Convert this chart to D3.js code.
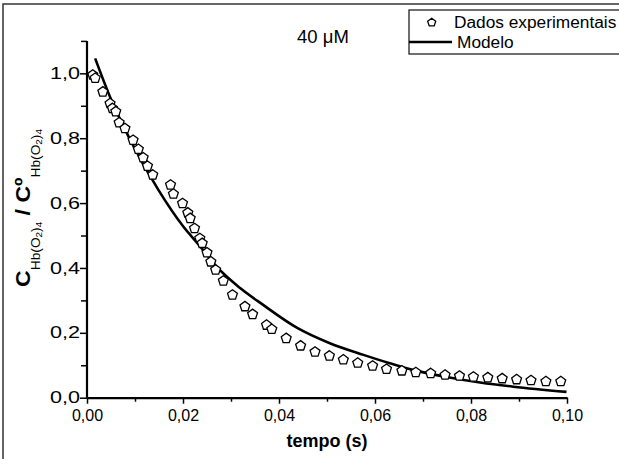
<!DOCTYPE html>
<html>
<head>
<meta charset="utf-8">
<script src="https://cdn.jsdelivr.net/npm/d3@7"></script>
<style>
  body { margin: 0; background: #fff; }
  svg { display: block; font-family: "Liberation Sans", Arial, sans-serif; }
</style>
</head>
<body>
<div id="chart"></div>
<script>
// experimental points (tempo in s, normalised concentration)
var tData = [0.0012, 0.0017, 0.0033, 0.0048, 0.0053, 0.0060, 0.0067, 0.0079, 0.0096, 0.0107,
  0.0117, 0.0126, 0.0137, 0.0174, 0.0180, 0.0199, 0.0210, 0.0215, 0.0224, 0.0235,
  0.0240, 0.0250, 0.0258, 0.0268, 0.0284, 0.0303, 0.0329, 0.0345, 0.0374, 0.0385,
  0.0415, 0.0445, 0.0475, 0.0505, 0.0534, 0.0564, 0.0595, 0.0624, 0.0656, 0.0685,
  0.0716, 0.0746, 0.0776, 0.0805, 0.0835, 0.0865, 0.0895, 0.0925, 0.0956, 0.0987]
var vData = [0.995, 0.985, 0.943, 0.907, 0.892, 0.882, 0.848, 0.830, 0.794, 0.766,
  0.740, 0.714, 0.687, 0.656, 0.628, 0.599, 0.570, 0.553, 0.522, 0.491,
  0.476, 0.447, 0.419, 0.394, 0.360, 0.317, 0.281, 0.257, 0.224, 0.211,
  0.183, 0.160, 0.141, 0.129, 0.117, 0.107, 0.098, 0.088, 0.083, 0.078,
  0.075, 0.070, 0.067, 0.064, 0.062, 0.059, 0.056, 0.053, 0.050, 0.050]

// model curve
var tModel = [0.0017, 0.005, 0.009, 0.0149, 0.0201, 0.0235, 0.027, 0.0319, 0.0367, 0.0437,
  0.0506, 0.0576, 0.0631, 0.068, 0.0749, 0.0819, 0.0888, 0.0999]
var vModel = [1.046, 0.92, 0.795, 0.64, 0.527, 0.468, 0.404, 0.338, 0.286, 0.216,
  0.168, 0.132, 0.106, 0.085, 0.064, 0.047, 0.034, 0.018]

var xTicks = [0, 0.02, 0.04, 0.06, 0.08, 0.10]
var xMinor = [0.01, 0.03, 0.05, 0.07, 0.09]
var yTicks = [0, 0.2, 0.4, 0.6, 0.8, 1.0]
var yMinor = [0.1, 0.3, 0.5, 0.7, 0.9, 1.1]

var width = 619, height = 459

var svg = d3.select("#chart").append("svg")
  .attr("width", width)
  .attr("height", height)

// outer frame (only left/top edges fall inside the picture)
svg.append("rect")
  .attr("x", 3).attr("y", 4)
  .attr("width", 700).attr("height", 700)
  .attr("fill", "none")
  .attr("stroke", "#333")
  .attr("stroke-width", 1.5)

var x = d3.scaleLinear().domain([0, 0.10]).range([87, 567])
var y = d3.scaleLinear().domain([0, 1.1]).range([397.7, 40.9])

var comma = function (f) { return function (d) { return d3.format(f)(d).replace(".", ",") } }

// minor ticks
svg.append("g")
  .attr("transform", "translate(0," + y(0) + ")")
  .call(d3.axisBottom(x).tickValues(xMinor).tickSize(4).tickFormat(""))
  .call(function (g) { g.select(".domain").remove() })
  .selectAll("line").attr("stroke-width", 1.5)
svg.append("g")
  .attr("transform", "translate(" + x(0) + ",0)")
  .call(d3.axisLeft(y).tickValues(yMinor).tickSize(6).tickFormat(""))
  .call(function (g) { g.select(".domain").remove() })
  .selectAll("line").attr("stroke-width", 1.5)

// x axis
var gx = svg.append("g")
  .attr("transform", "translate(0," + y(0) + ")")
  .call(d3.axisBottom(x).tickValues(xTicks).tickSize(6).tickSizeOuter(0).tickPadding(6).tickFormat(comma(".2f")))
gx.select(".domain").attr("stroke-width", 2.2)
gx.selectAll("line").attr("stroke-width", 1.5)
gx.selectAll("text").attr("font-size", 16).attr("fill", "#000")

// y axis
var gy = svg.append("g")
  .attr("transform", "translate(" + x(0) + ",0)")
  .call(d3.axisLeft(y).tickValues(yTicks).tickSize(7).tickSizeOuter(0).tickFormat(comma(".1f")))
gy.select(".domain").attr("d", "M0," + y(1.1) + "V" + y(0)).attr("stroke-width", 2.2)
gy.selectAll("line").attr("stroke-width", 1.5)
gy.selectAll("text")
  .attr("font-size", 16).attr("fill", "#000")
  .attr("x", -7 / 1.35)
  .attr("transform", "scale(1.35,1)")

// model line
var modelPts = tModel.map(function (t, i) { return [t, vModel[i]] })
svg.append("path")
  .datum(modelPts)
  .attr("fill", "none")
  .attr("stroke", "#000")
  .attr("stroke-width", 2.6)
  .attr("d", d3.line()
    .x(function (d) { return x(d[0]) })
    .y(function (d) { return y(d[1]) })
    .curve(d3.curveMonotoneX))

// pentagon symbol
var pentagon = {
  draw: function (ctx, size) {
    var r = Math.sqrt(size)
    for (var i = 0; i < 5; i++) {
      var a = -Math.PI / 2 + i * 2 * Math.PI / 5
      if (i === 0) ctx.moveTo(r * Math.cos(a), r * Math.sin(a))
      else ctx.lineTo(r * Math.cos(a), r * Math.sin(a))
    }
    ctx.closePath()
  }
}

var pts = tData.map(function (t, i) { return [t, vData[i]] })
svg.append("g").selectAll("path")
  .data(pts)
  .enter()
  .append("path")
  .attr("transform", function (d) { return "translate(" + x(d[0]) + "," + y(d[1]) + ")" })
  .attr("d", d3.symbol().type(pentagon).size(27))
  .attr("fill", "#fff")
  .attr("stroke", "#000")
  .attr("stroke-width", 1.3)

// axis titles
svg.append("text")
  .attr("x", x(0.05))
  .attr("y", 447)
  .attr("text-anchor", "middle")
  .attr("font-size", 18)
  .attr("font-weight", "bold")
  .text("tempo (s)")

var yl = svg.append("text")
  .attr("transform", "translate(30,208) rotate(-90) scale(1.1,1)")
  .attr("text-anchor", "middle")
  .attr("font-size", 21)
  .attr("font-weight", "bold")

function subscript(t) {
  t.append("tspan").attr("font-size", 12.5).attr("font-weight", "normal").attr("dy", 10).text("Hb(O")
  t.append("tspan").attr("font-size", 9).attr("font-weight", "normal").attr("dy", 2).text("2")
  t.append("tspan").attr("font-size", 12.5).attr("font-weight", "normal").attr("dy", -2).text(")")
  t.append("tspan").attr("font-size", 9).attr("font-weight", "normal").attr("dy", 2).text("4")
}
yl.append("tspan").text("C")
subscript(yl)
yl.append("tspan").attr("dy", -12).text(" / Cº")
subscript(yl)

// annotation
svg.append("text")
  .attr("x", 297).attr("y", 43)
  .attr("font-size", 18.5)
  .text("40 μM")

// legend
var lg = svg.append("g")
lg.append("rect")
  .attr("x", 409).attr("y", 10)
  .attr("width", 300).attr("height", 44)
  .attr("fill", "#fff")
  .attr("stroke", "#222")
  .attr("stroke-width", 1.3)
lg.append("path")
  .attr("transform", "translate(431.7,22.5)")
  .attr("d", d3.symbol().type(pentagon).size(18))
  .attr("fill", "#fff")
  .attr("stroke", "#000")
  .attr("stroke-width", 1.3)
lg.append("text")
  .attr("x", 454).attr("y", 28)
  .attr("font-size", 17.3)
  .text("Dados experimentais")
lg.append("line")
  .attr("x1", 409).attr("x2", 452)
  .attr("y1", 42).attr("y2", 42)
  .attr("stroke", "#000")
  .attr("stroke-width", 2.6)
lg.append("text")
  .attr("x", 457).attr("y", 48)
  .attr("font-size", 17.3)
  .text("Modelo")
</script>
</body>
</html>
